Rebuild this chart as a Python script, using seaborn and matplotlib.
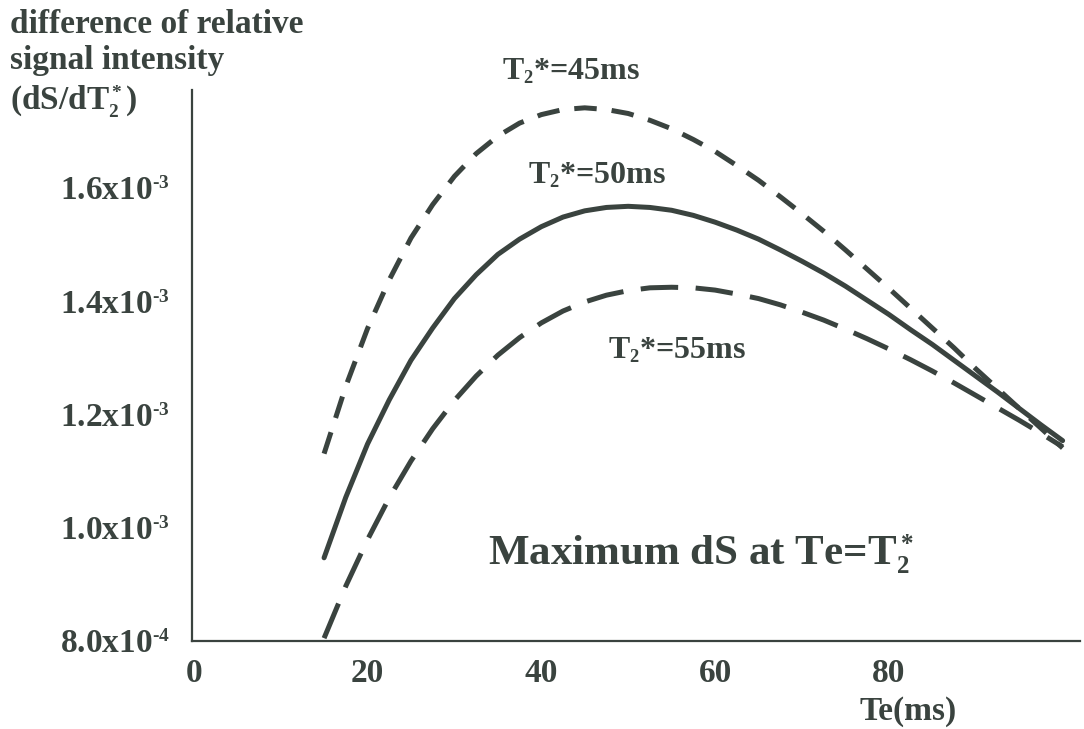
import matplotlib
matplotlib.use("Agg")
import matplotlib.pyplot as plt
import seaborn as sns
import pandas as pd

try:
    import matplotlib._mathtext as _mt
    _mt.SHRINK_FACTOR = 0.58
except Exception:
    pass

# ---- data (values in units of 1e-3) ----
te_ms = [15, 17.5, 20, 22.5, 25, 27.5, 30, 32.5, 35, 37.5, 40, 42.5, 45, 47.5,
         50, 52.5, 55, 57.5, 60, 62.5, 65, 67.5, 70, 72.5, 75, 77.5, 80, 82.5,
         85, 87.5, 90, 92.5, 95, 97.5, 100]
ds_t45 = [1.131, 1.250, 1.352, 1.438, 1.512, 1.571, 1.621, 1.661, 1.692, 1.715,
          1.730, 1.739, 1.742, 1.739, 1.732, 1.720, 1.705, 1.686, 1.665, 1.640,
          1.614, 1.585, 1.555, 1.524, 1.491, 1.457, 1.423, 1.388, 1.353, 1.318,
          1.281, 1.246, 1.211, 1.176, 1.141]
ds_t50 = [0.947, 1.054, 1.148, 1.226, 1.296, 1.353, 1.405, 1.447, 1.483, 1.510,
          1.532, 1.549, 1.560, 1.566, 1.568, 1.566, 1.561, 1.552, 1.540, 1.526,
          1.510, 1.491, 1.471, 1.450, 1.427, 1.402, 1.377, 1.350, 1.324, 1.296,
          1.268, 1.240, 1.211, 1.182, 1.154]
ds_t55 = [0.805, 0.897, 0.979, 1.053, 1.118, 1.175, 1.225, 1.268, 1.305, 1.336,
          1.362, 1.383, 1.399, 1.411, 1.419, 1.424, 1.425, 1.424, 1.420, 1.413,
          1.405, 1.394, 1.381, 1.367, 1.351, 1.334, 1.316, 1.297, 1.277, 1.256,
          1.234, 1.212, 1.190, 1.167, 1.143]
series_names = ["45", "50", "55"]
x_ticks = [0, 20, 40, 60, 80, 100]
x_ticklabels = ["0", "20", "40", "60", "80", ""]
y_ticks = [0.8e-3, 1.0e-3, 1.2e-3, 1.4e-3, 1.6e-3]
y_ticklabels = ["8.0x10$^{\\text{-}4}$", "1.0x10$^{\\text{-}3}$",
                "1.2x10$^{\\text{-}3}$", "1.4x10$^{\\text{-}3}$",
                "1.6x10$^{\\text{-}3}$"]

rows = []
for name, vals in zip(series_names, [ds_t45, ds_t50, ds_t55]):
    for t, v in zip(te_ms, vals):
        rows.append({"TE": t, "dS": v * 1e-3, "T2": name})
df = pd.DataFrame(rows)

# ---- style ----
sns.set_theme(style="white")
INK = "#3a433f"
plt.rcParams["font.family"] = ["Liberation Serif", "DejaVu Serif"]
plt.rcParams["font.weight"] = "bold"
plt.rcParams["mathtext.fontset"] = "custom"
plt.rcParams["mathtext.rm"] = "Liberation Serif:bold"
plt.rcParams["mathtext.it"] = "Liberation Serif:bold"
plt.rcParams["mathtext.bf"] = "Liberation Serif:bold"
plt.rcParams["mathtext.default"] = "bf"

W, H = 1084, 729
fig = plt.figure(figsize=(W / 100, H / 100), dpi=100)
fig.patch.set_facecolor("white")
ax = fig.add_axes([192 / W, 1 - 641 / H, (1080 - 192) / W, (641 - 90) / H])
ax.set_facecolor("white")

lw = 3.6
sns.lineplot(data=df, x="TE", y="dS", hue="T2", style="T2",
             palette={"45": INK, "50": INK, "55": INK},
             dashes={"45": (4.5, 3.0), "50": "", "55": (7.5, 3.5)},
             linewidth=lw, legend=False, ax=ax, clip_on=False)

ax.set_xlim(-0.2, 102)
ax.set_ylim(0.8e-3, 1.7735e-3)
ax.set_xticks(x_ticks)
ax.set_xticklabels(x_ticklabels)
ax.set_yticks(y_ticks)
ax.set_yticklabels(y_ticklabels)
ax.set_xlabel("")
ax.set_ylabel("")

for s in ["top", "right"]:
    ax.spines[s].set_visible(False)
for s in ["left", "bottom"]:
    ax.spines[s].set_color(INK)
    ax.spines[s].set_linewidth(1.6)

ax.tick_params(axis="both", direction="in", length=5, width=1.3, color=INK,
               labelcolor=INK, labelsize=24)
ax.tick_params(axis="x", pad=12)
ax.tick_params(axis="y", pad=16)
for lab in ax.get_xticklabels() + ax.get_yticklabels():
    lab.set_fontweight("bold")


def fx(px):
    return px / W


def fy(py):
    return 1 - py / H


txt = dict(color=INK, fontweight="bold", ha="left", va="baseline")
fig.text(fx(10), fy(33), "difference of relative", fontsize=24, **txt)
fig.text(fx(10), fy(69), "signal intensity", fontsize=24, **txt)
fig.text(fx(10), fy(110), "(dS/dT$_2^*$)", fontsize=24, **txt)

fig.text(fx(502), fy(79), "T$_2$*=45ms", fontsize=23, **txt)
fig.text(fx(528), fy(183), "T$_2$*=50ms", fontsize=23, **txt)
fig.text(fx(608), fy(358), "T$_2$*=55ms", fontsize=23, **txt)

fig.text(fx(488), fy(565), "Maximum dS at Te=T$_2^*$", fontsize=31, **txt)
fig.text(fx(860), fy(720), "Te(ms)", fontsize=24, **txt)

fig.savefig("out.png", dpi=100, facecolor="white")
